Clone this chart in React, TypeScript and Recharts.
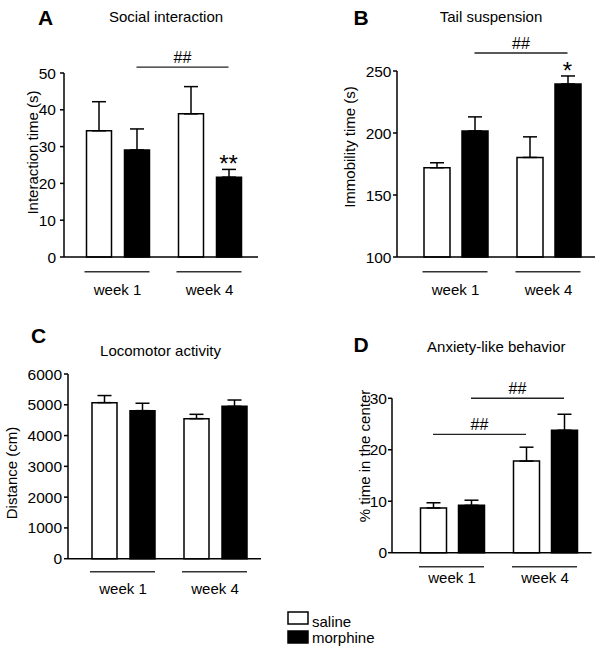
import { Bar, BarChart, ErrorBar, ReferenceDot, ReferenceLine, XAxis, YAxis } from "recharts"

const FONT = "Liberation Sans, Arial, Helvetica, sans-serif"

const weeks = ["week 1", "week 4"]

// A: social interaction, seconds
const socialSaline = [34.3, 38.9]
const socialSalineErr = [7.9, 7.4]
const socialMorphine = [29.1, 21.7]
const socialMorphineErr = [5.7, 2.1]
const socialSig = ["", "**"]
const socialTicks = [0, 10, 20, 30, 40, 50]

// B: tail suspension, seconds
const tailSaline = [172, 180.3]
const tailSalineErr = [4, 16.6]
const tailMorphine = [201.7, 239.5]
const tailMorphineErr = [11.3, 6.5]
const tailSig = ["", "*"]
const tailTicks = [100, 150, 200, 250]

// C: locomotor activity, cm
const locoSaline = [5070, 4550]
const locoSalineErr = [230, 140]
const locoMorphine = [4810, 4950]
const locoMorphineErr = [240, 205]
const locoTicks = [0, 1000, 2000, 3000, 4000, 5000, 6000]

// D: % time in the center
const anxSaline = [8.7, 17.8]
const anxSalineErr = [1.0, 2.7]
const anxMorphine = [9.2, 23.8]
const anxMorphineErr = [1.0, 3.1]
const anxTicks = [0, 10, 20, 30]

type Bracket = { from: string; to: string; y: number; group: "saline" | "morphine" }

const socialBrackets: Bracket[] = [{ from: "week 1", to: "week 4", y: 51.6, group: "morphine" }]
const tailBrackets: Bracket[] = [{ from: "week 1", to: "week 4", y: 264.5, group: "morphine" }]
const anxBrackets: Bracket[] = [
  { from: "week 1", to: "week 4", y: 23, group: "saline" },
  { from: "week 1", to: "week 4", y: 30, group: "morphine" },
]

function rows(s: number[], se: number[], m: number[], me: number[], sig: string[] = []) {
  return weeks.map((week, i) => ({
    week,
    saline: s[i],
    salineErr: [0, se[i]],
    morphine: m[i],
    morphineErr: [0, me[i]],
    sigY: m[i] + me[i],
    sig: sig[i] ?? "",
  }))
}

interface PanelProps {
  data: ReturnType<typeof rows>
  domain: [number, number]
  ticks: number[]
  box: { left: number; top: number; width: number; height: number }
  margin: { top: number; right: number; bottom: number; left: number }
  padding: { left: number; right: number }
  barSize: number
  barGap: number
  tickMargin: number
  lineDy: number
  textDy: number
  brackets?: Bracket[]
}

function Panel({ data, domain, ticks, box, margin, padding, barSize, barGap, tickMargin, lineDy, textDy, brackets = [] }: PanelProps) {
  const shift = (barSize + barGap) / 2

  const weekTick = (p: any) => (
    <g>
      <line x1={p.x - 33} x2={p.x + 32} y1={p.y + lineDy} y2={p.y + lineDy} stroke="#333" strokeWidth={1.4} />
      <text x={p.x} y={p.y + textDy} textAnchor="middle" fontSize={15} fontFamily={FONT} fill="#000">
        {p.payload.value}
      </text>
    </g>
  )

  return (
    <div style={{ position: "absolute", left: box.left, top: box.top }}>
      <BarChart width={box.width} height={box.height} data={data} margin={margin} barSize={barSize} barGap={barGap}>
        <XAxis
          dataKey="week"
          padding={padding}
          axisLine={{ stroke: "#000", strokeWidth: 1.5 }}
          tickLine={false}
          tickSize={0}
          tickMargin={0}
          interval={0}
          height={50}
          tick={weekTick}
        />
        <YAxis
          type="number"
          domain={domain}
          ticks={ticks}
          interval={0}
          width={40}
          tickSize={4}
          tickMargin={tickMargin}
          axisLine={{ stroke: "#000", strokeWidth: 1.5 }}
          tickLine={{ stroke: "#000", strokeWidth: 1.5 }}
          tick={{ fill: "#000", fontSize: 15.5, fontFamily: FONT }}
        />
        <Bar dataKey="saline" fill="#fff" stroke="#000" strokeWidth={1.5} isAnimationActive={false}>
          <ErrorBar dataKey="salineErr" direction="y" width={7} stroke="#000" strokeWidth={1.5} />
        </Bar>
        <Bar dataKey="morphine" fill="#000" stroke="#000" strokeWidth={1.5} isAnimationActive={false}>
          <ErrorBar dataKey="morphineErr" direction="y" width={7} stroke="#000" strokeWidth={1.5} />
        </Bar>
        {brackets.map((b, i) => {
          const dx = b.group === "morphine" ? shift : -shift
          return (
            <ReferenceLine
              key={i}
              segment={[
                { x: b.from, y: b.y },
                { x: b.to, y: b.y },
              ]}
              ifOverflow="visible"
              shape={(p: any) => (
                <g>
                  <line x1={p.x1 + dx} x2={p.x2 + dx} y1={p.y1} y2={p.y2} stroke="#222" strokeWidth={1.4} />
                  <text x={(p.x1 + p.x2) / 2 + dx} y={p.y1 - 4} textAnchor="middle" fontSize={16} fontFamily={FONT} fill="#000">
                    ##
                  </text>
                </g>
              )}
            />
          )
        })}
        {data
          .filter((d) => d.sig)
          .map((d) => (
            <ReferenceDot
              key={d.week}
              x={d.week}
              y={d.sigY}
              ifOverflow="visible"
              shape={(p: any) => (
                <text x={p.cx + shift} y={p.cy + 3} textAnchor="middle" fontSize={24} fontFamily={FONT} fill="#000">
                  {d.sig}
                </text>
              )}
            />
          ))}
      </BarChart>
    </div>
  )
}

const letterStyle = { fontSize: 21, fontWeight: 700, fontFamily: FONT }
const titleStyle = { fontSize: 15, fontFamily: FONT }

function YTitle({ x, y, children }: { x: number; y: number; children: string }) {
  return (
    <text x={x} y={y} transform={`rotate(-90 ${x} ${y})`} textAnchor="middle" fontSize={15} fontFamily={FONT}>
      {children}
    </text>
  )
}

export default function App() {
  return (
    <div style={{ position: "absolute", left: 0, top: 0, width: 600, height: 654, background: "#fff", fontFamily: FONT }}>
      <Panel
        data={rows(socialSaline, socialSalineErr, socialMorphine, socialMorphineErr, socialSig)}
        domain={[0, 50]}
        ticks={socialTicks}
        box={{ left: 0, top: 0, width: 300, height: 320 }}
        margin={{ top: 73, right: 42, bottom: 13, left: 24 }}
        padding={{ left: 7.5, right: 2.5 }}
        barSize={25}
        barGap={13}
        tickMargin={4}
        lineDy={14.7}
        textDy={38}
        brackets={socialBrackets}
      />
      <Panel
        data={rows(tailSaline, tailSalineErr, tailMorphine, tailMorphineErr, tailSig)}
        domain={[100, 250]}
        ticks={tailTicks}
        box={{ left: 300, top: 0, width: 300, height: 320 }}
        margin={{ top: 71, right: 5, bottom: 13, left: 57 }}
        padding={{ left: 12, right: 0 }}
        barSize={26}
        barGap={12}
        tickMargin={1.5}
        lineDy={14.7}
        textDy={38}
        brackets={tailBrackets}
      />
      <Panel
        data={rows(locoSaline, locoSalineErr, locoMorphine, locoMorphineErr)}
        domain={[0, 6000]}
        ticks={locoTicks}
        box={{ left: 0, top: 320, width: 300, height: 300 }}
        margin={{ top: 54, right: 39, bottom: 11.3, left: 28 }}
        padding={{ left: 9, right: 0 }}
        barSize={25}
        barGap={13}
        tickMargin={2}
        lineDy={13}
        textDy={35.3}
      />
      <Panel
        data={rows(anxSaline, anxSalineErr, anxMorphine, anxMorphineErr)}
        domain={[0, 30]}
        ticks={anxTicks}
        box={{ left: 300, top: 320, width: 300, height: 300 }}
        margin={{ top: 78.3, right: 8.5, bottom: 17.3, left: 52 }}
        padding={{ left: 13.5, right: 0 }}
        barSize={26}
        barGap={12}
        tickMargin={1}
        lineDy={14}
        textDy={30.6}
        brackets={anxBrackets}
      />
      <svg width={600} height={654} style={{ position: "absolute", left: 0, top: 0, pointerEvents: "none" }}>
        <text x={38} y={25} {...letterStyle}>A</text>
        <text x={353.5} y={25} {...letterStyle}>B</text>
        <text x={31} y={343} {...letterStyle}>C</text>
        <text x={353.5} y={351.7} {...letterStyle}>D</text>
        <text x={166} y={22.4} textAnchor="middle" {...titleStyle}>Social interaction</text>
        <text x={491} y={21.7} textAnchor="middle" {...titleStyle}>Tail suspension</text>
        <text x={160.5} y={356.2} textAnchor="middle" {...titleStyle}>Locomotor activity</text>
        <text x={496.3} y={352.4} textAnchor="middle" {...titleStyle}>Anxiety-like behavior</text>
        <YTitle x={37.5} y={152.5}>Interaction time (s)</YTitle>
        <YTitle x={355} y={147}>Immobility time (s)</YTitle>
        <YTitle x={16.8} y={473}>Distance (cm)</YTitle>
        <YTitle x={370} y={456}>% time in the center</YTitle>
        <rect x={288} y={612} width={20} height={12} fill="#fff" stroke="#000" strokeWidth={1.5} />
        <rect x={288} y={631} width={20} height={12} fill="#000" stroke="#000" strokeWidth={1.5} />
        <text x={312} y={626.5} {...titleStyle}>saline</text>
        <text x={312} y={643} {...titleStyle}>morphine</text>
      </svg>
    </div>
  )
}
